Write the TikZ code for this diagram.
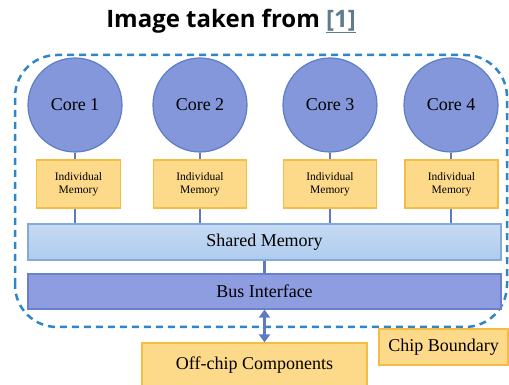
\documentclass[tikz,border=0pt]{standalone}
\usepackage{fontspec}
\setmainfont{Liberation Serif}
\newfontfamily\headfont{Open Sans}
\usetikzlibrary{arrows.meta,positioning}
\definecolor{ChipDash}{HTML}{2E86C8}
\definecolor{ChipLink}{HTML}{5B7BC4}
\definecolor{CoreFill}{HTML}{8397DA}
\definecolor{CoreLine}{HTML}{5F7EC6}
\definecolor{MemFill}{HTML}{FDD98A}
\definecolor{MemLine}{HTML}{F3BC45}
\definecolor{SharedFill}{HTML}{AECBEE}
\definecolor{SharedLine}{HTML}{84A9DA}
\definecolor{BusFill}{HTML}{8E9DE0}
\definecolor{BusLine}{HTML}{6A80CF}
\definecolor{RefGray}{HTML}{5F7C8C}
\tikzset{
  link/.style={line width=2.4pt, draw=ChipLink},
  busarrow/.style={{Triangle[width=11pt,length=8pt]}-{Triangle[width=11pt,length=8pt]}, line width=3pt, draw=ChipLink},
  boundary/.style={dashed, dash pattern=on 7pt off 5pt, line width=2.5pt, draw=ChipDash, rounded corners=42pt},
  cpu/.style={circle, draw=CoreLine, fill=CoreFill, line width=1.2pt, minimum size=94pt, inner sep=0pt,
              font=\fontsize{18}{20}\selectfont},
  block/.style={draw, line width=1.2pt, align=center, inner sep=2pt},
  privmem/.style={block, draw=MemLine, fill=MemFill, minimum width=93pt, minimum height=48pt,
                  font=\fontsize{11.5}{13}\selectfont},
  shared/.style={block, draw=SharedLine, top color=SharedFill!70!white, bottom color=SharedFill,
                 minimum width=473pt, minimum height=36pt, font=\fontsize{18}{20}\selectfont},
  bus/.style={block, draw=BusLine, fill=BusFill, minimum width=473pt, minimum height=35pt,
              font=\fontsize{18}{20}\selectfont},
  offchip/.style={block, draw=MemLine, fill=MemFill, font=\fontsize{18}{20}\selectfont},
}

\begin{document}
\begin{tikzpicture}[x=1pt,y=1pt]
    \useasboundingbox (0,0) rectangle (509,385);
    \node[font=\headfont\bfseries\fontsize{24}{28}\selectfont] (title) at (231,364)
      {Image taken from \textcolor{RefGray}{\underline{[1]}}};
    % chip outline
    \draw[boundary] (15,58) rectangle (507,330);
    % cores and their private memories
    \foreach \i/\x in {1/75,2/200,3/330,4/451} {
      \node[cpu] (c\i) at (\x,280) {Core \i};
    }
    \node[privmem,minimum width=84pt] (m1) at (78.5,201) {Individual\\Memory};
    \node[privmem] (m2) at (200,201) {Individual\\Memory};
    \node[privmem] (m3) at (330,201) {Individual\\Memory};
    \node[privmem] (m4) at (451.5,201) {Individual\\Memory};
    \node[shared] (sh) at (264.5,143) {Shared Memory};
    \node[bus] (bi) at (264.5,93.5) {Bus Interface};
    \node[offchip,minimum width=225pt,minimum height=44pt] (off) at (254.5,20) {Off-chip Components};
    \node[offchip,minimum width=129pt,minimum height=36pt] (cb) at (443.5,38) {Chip Boundary};
    \foreach \i in {1,...,4} {
      \draw[link] (c\i) -- (c\i |- m\i.north);
      \draw[link] (c\i |- m\i.south) -- (c\i |- sh.north);
    }
    \draw[link] (sh) -- (bi);
    \draw[busarrow] (bi.south) -- (bi.south |- off.north);
  \end{tikzpicture}
\end{document}
